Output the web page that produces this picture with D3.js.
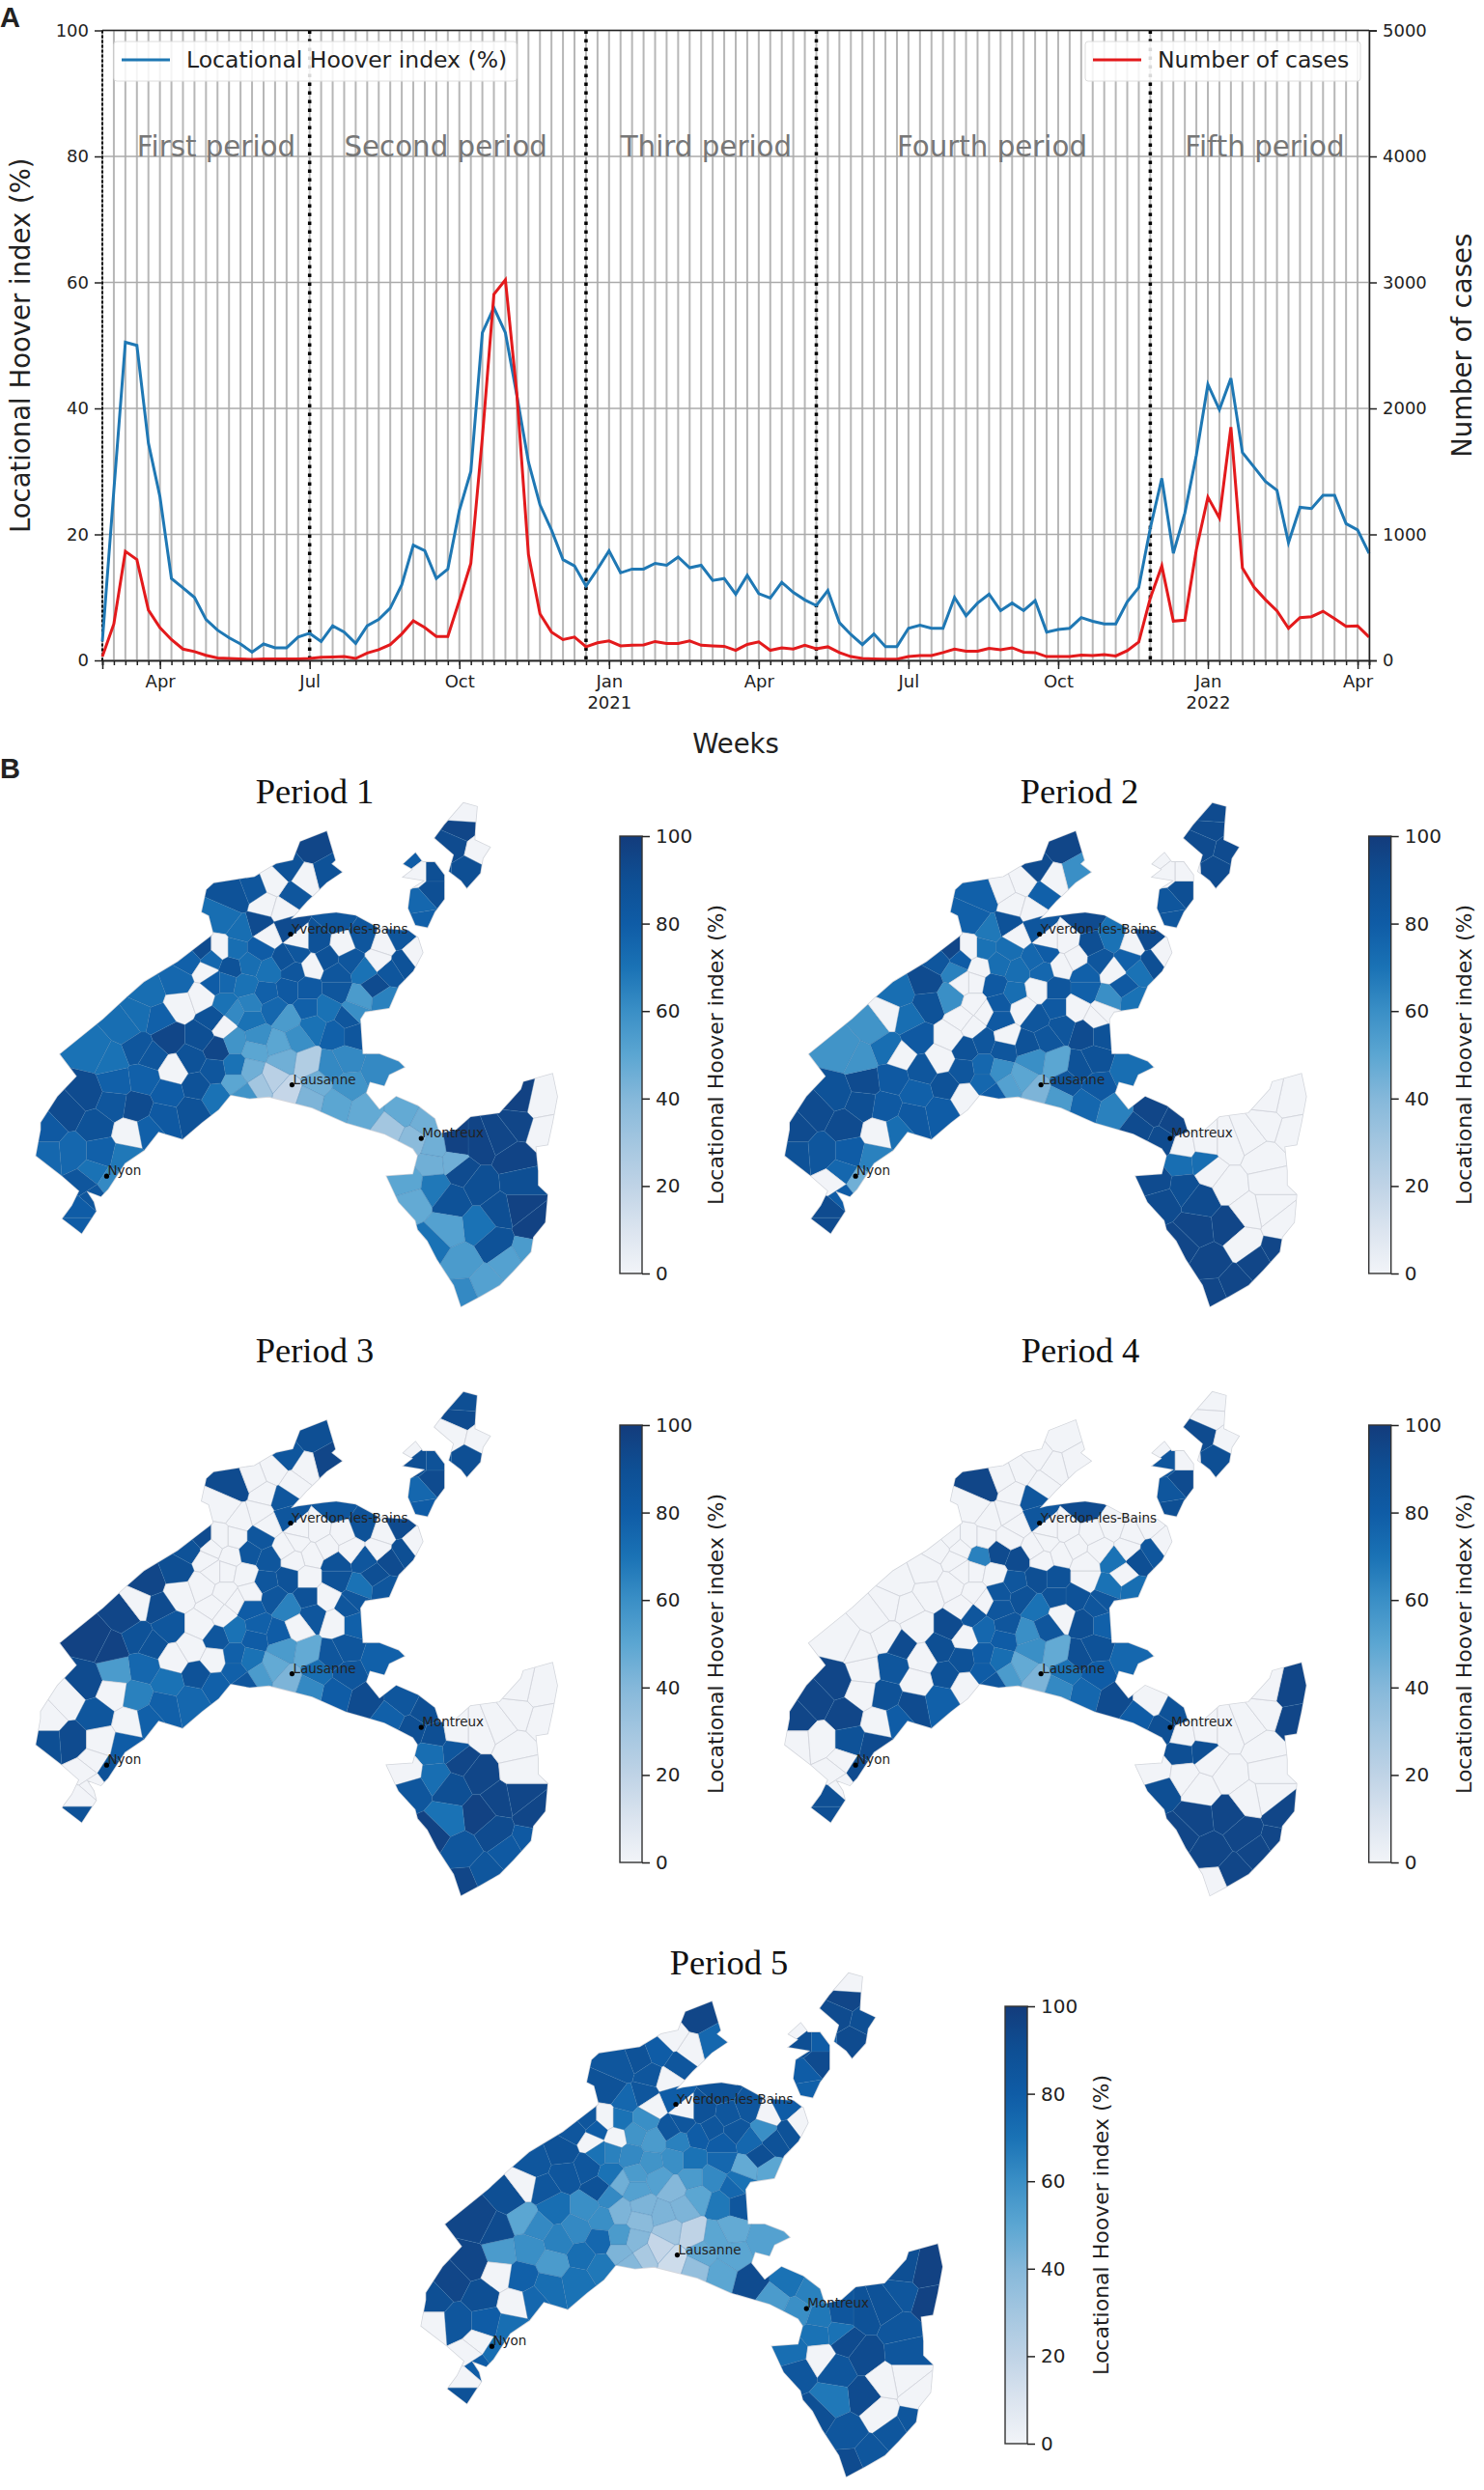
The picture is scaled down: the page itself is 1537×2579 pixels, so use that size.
<!DOCTYPE html>
<html>
<head>
<meta charset="utf-8">
<script src="https://cdn.jsdelivr.net/npm/d3@7"></script>
<style>
  html, body { margin: 0; background: #fff; }
  svg { display: block; }
  text { font-family: "DejaVu Sans", sans-serif; fill: #222; }
</style>
</head>
<body>
<svg id="chart" width="1537" height="2579"></svg>
<script>
// ---- panel A values, one per week ----
const hooverWeekly = [3,27,50.5,50,34.5,26,13,11.5,10,6.5,4.8,3.6,2.6,1.3,2.6,2,2,3.7,4.3,3,
  5.5,4.5,2.7,5.5,6.5,8.3,12,18.3,17.4,13,14.5,23.8,30,52,56,52,42,31.5,24.7,20.7,
  16,15,11.8,14.5,17.4,13.9,14.5,14.5,15.4,15.1,16.4,14.7,15.1,12.7,13,10.5,13.5,10.6,9.9,12.4,
  10.8,9.6,8.7,11.1,6,4.1,2.5,4.2,2.2,2.2,5.1,5.6,5.1,5.1,10,7.1,9.1,10.5,7.9,9.1,
  7.9,9.5,4.5,4.9,5.1,6.8,6.2,5.8,5.8,9.3,11.6,21,28.9,17,23.4,32.6,43.8,39.8,44.8,33,
  30.7,28.4,27,18.7,24.3,24.1,26.2,26.2,21.7,20.7,17];
const casesWeekly = [30,290,865,800,400,260,165,90,70,40,20,15,12,8,12,12,12,12,15,25,
  27,30,15,58,85,125,210,315,260,190,190,475,770,1770,2905,3020,2110,840,370,225,
  165,185,108,140,155,115,120,123,150,135,135,155,120,115,112,80,127,147,80,100,
  90,120,93,108,62,30,15,12,10,10,30,38,38,62,90,73,73,96,85,100,
  65,62,30,30,30,42,38,46,35,77,147,495,750,312,320,880,1296,1130,1852,733,
  582,482,393,255,340,347,390,332,270,274,185];
const firstWeek = new Date(Date.UTC(2020, 1, 24));
const weekDates = d3.utcMonday.range(firstWeek, new Date(Date.UTC(2022, 3, 5)));

const monthWeeks = ["2020-03-30","2020-06-29","2020-09-28","2020-12-28","2021-03-29","2021-06-28","2021-09-27","2021-12-27","2022-03-28"];
const monthLabels = ["Apr","Jul","Oct","Jan","Apr","Jul","Oct","Jan","Apr"];
const yearLabels = ["","","","2021","","","","2022",""];
const periodStarts = ["2020-02-24","2020-06-29","2020-12-14","2021-05-03","2021-11-22"];
const periodLabels = ["First period","Second period","Third period","Fourth period","Fifth period"];
const periodLabelWeeks = ["2020-03-16","2020-07-20","2021-01-04","2021-06-21","2021-12-13"];
const hooverTicks = [0,20,40,60,80,100];
const casesTicks = [0,1000,2000,3000,4000,5000];

// ---- panel B values: outline parts, then cell seeds with one value per period ----
const outlineMain = [[75,1090],[85,1020],[85,1000],[120,930],[160,875],[125,815],[215,720],[265,660],[300,620],[370,565],[420,515],[445,490],[435,440],[420,430],[430,370],[445,352],[530,335],[575,300],[610,290],[625,240],[680,212],[698,290],[690,300],[712,322],[680,350],[640,400],[605,450],[620,445],[675,435],[700,432],[740,440],[790,475],[850,480],[870,500],[880,540],[860,590],[830,630],[810,690],[760,700],[750,720],[755,815],[790,815],[830,835],[842,850],[810,870],[800,900],[770,890],[762,920],[790,965],[825,930],[870,955],[905,990],[915,1030],[950,1020],[980,985],[1040,975],[1085,910],[1090,890],[1150,868],[1160,930],[1150,1000],[1140,1060],[1115,1065],[1120,1130],[1120,1170],[1140,1195],[1135,1270],[1110,1310],[1105,1350],[1070,1400],[1040,1440],[1000,1470],[960,1498],[945,1440],[910,1370],[890,1320],[870,1290],[865,1265],[830,1215],[805,1145],[860,1140],[870,1090],[860,1070],[830,1050],[800,1030],[720,1000],[650,960],[560,930],[520,935],[480,925],[455,965],[420,1000],[380,1045],[330,1025],[300,1075],[260,1110],[225,1180],[210,1200],[180,1185],[195,1215],[200,1240],[170,1300],[130,1260],[150,1225],[165,1185],[130,1145]];
const outlineNorthA = [[905,230],[925,195],[965,135],[993,145],[990,190],[988,235],[1020,255],[1005,285],[1000,325],[972,365],[960,345],[935,320],[945,275]];
const outlineNorthB = [[840,300],[865,270],[880,295],[905,295],[925,330],[925,395],[905,430],[890,472],[865,465],[850,420],[855,370],[885,345],[840,335],[860,315]];

const siteX = [
  962,960,945,995,975,
  855,870,905,905,875,880,
  650,680,635,600,610,570,550,490,530,590,470,540,
  700,600,555,500,625,660,715,755,800,830,860,595,650,700,
  420,395,460,430,480,520,560,610,640,700,760,810,780,750,800,470,510,555,600,680,725,640,570,
  310,260,200,290,375,370,420,445,350,420,465,290,400,315,362,450,445,490,490,410,350,300,240,450,180,235,285,340,400,140,100,200,270,310,100,150,210,195,260,225,180,195,165,165,
  520,535,600,650,700,735,580,640,590,530,520,570,600,540,490,510,660,690,720,790,725,700,645,760,620,490,
  840,885,810,860,905,900,850,860,905,940,1000,1080,1000,1040,1070,1120,1130,1000,930,1030,960,1060,1010,965,900,1110,
  445,440,490,540,620,680,730,790,840,470,520,740,
  1100,1040,960,950,1080,1085,1080,230,330,945];
const siteY = [
  165,205,250,265,315,
  295,320,320,375,410,450,
  255,325,340,310,385,350,410,390,370,425,450,465,
  450,470,495,480,510,510,520,500,520,500,545,560,575,600,
  530,560,530,590,580,570,590,590,640,640,590,590,630,665,670,620,630,650,640,690,720,690,690,
  650,740,810,710,680,620,660,720,770,770,740,800,830,820,860,800,860,780,850,900,920,880,890,930,920,950,960,985,970,970,1020,1010,1030,1020,1085,1080,1080,1140,1095,1165,1165,1195,1240,1275,
  720,770,720,740,760,760,790,840,830,800,860,880,915,900,890,925,895,850,830,860,900,950,935,970,770,700,
  970,1000,1020,1050,1070,1110,1165,1210,1175,1210,1170,1230,1060,1040,1100,950,1020,1280,1290,1325,1380,1380,1440,1465,1330,1280,
  620,560,530,530,540,555,560,560,565,680,680,700,
  1350,1240,1130,1060,1000,940,1160,830,720,1105];
const hooverPeriod1 = [
  0,95,92,0,90,
  80,0,90,90,75,78,
  95,88,0,88,85,0,0,88,85,0,72,92,
  85,92,0,72,0,88,0,85,0,85,0,88,0,85,
  92,78,0,0,88,72,70,85,82,85,70,85,92,55,65,75,70,78,82,70,85,78,75,
  72,72,70,72,0,75,0,88,95,90,0,85,88,85,0,95,85,58,70,88,80,78,78,70,92,85,92,82,88,92,82,88,0,78,75,75,78,70,68,62,85,85,80,80,
  70,60,55,70,78,85,50,25,45,50,45,22,18,30,50,58,45,62,62,62,58,50,42,48,60,62,
  48,45,30,38,45,45,50,48,68,88,90,97,96,95,96,0,0,70,52,88,55,52,52,62,70,97,
  80,75,72,80,85,88,85,0,88,70,65,60,
  55,90,92,97,95,97,90,70,78,45];
const hooverPeriod2 = [
  92,92,92,92,92,
  0,0,0,90,85,85,
  95,60,0,92,78,0,0,78,0,0,78,88,
  92,85,0,68,0,0,90,70,0,92,0,75,0,78,
  95,85,0,65,0,72,72,75,85,78,0,70,82,60,70,0,82,72,0,0,0,82,0,
  72,58,58,0,88,92,60,0,82,0,0,72,0,0,85,88,85,85,75,88,78,82,92,0,88,90,82,82,80,92,92,92,0,72,88,85,80,75,65,45,0,80,92,92,
  82,0,85,85,92,88,88,50,60,85,60,50,42,52,75,80,85,88,88,72,82,75,55,65,85,0,
  95,95,92,92,0,72,92,92,90,92,0,0,0,0,0,0,0,95,95,0,95,95,95,95,95,0,
  0,80,70,72,80,0,85,78,90,0,82,0,
  95,0,0,0,0,0,0,58,72,72];
const hooverPeriod3 = [
  90,92,0,0,90,
  0,90,88,92,75,80,
  90,95,0,85,0,0,0,92,0,85,0,0,
  85,85,0,0,0,0,0,88,0,92,0,0,0,88,
  92,88,0,0,0,85,85,0,0,88,85,92,90,70,85,0,0,85,88,0,85,88,85,
  95,95,97,0,0,90,0,0,85,0,0,88,0,88,0,85,0,70,78,88,70,75,55,78,92,0,65,78,75,0,0,85,0,78,90,92,0,0,80,88,0,0,0,88,
  80,78,65,85,0,78,80,48,55,80,70,48,42,55,78,85,72,85,85,78,85,80,62,92,0,0,
  85,90,78,90,90,72,0,85,72,90,95,95,0,0,0,0,0,97,70,92,85,82,85,95,97,95,
  0,0,0,85,0,0,0,0,90,0,0,85,
  82,95,95,0,0,0,0,97,92,85];
const hooverPeriod4 = [
  0,0,92,0,90,
  0,85,0,92,85,90,
  0,0,0,0,0,0,0,95,0,85,0,0,
  92,85,0,0,0,0,0,0,0,0,0,0,0,0,
  0,0,0,0,65,92,92,0,88,0,70,90,0,70,72,0,0,85,90,88,85,88,88,
  0,0,0,0,0,0,0,0,0,92,85,0,90,92,0,0,88,75,80,88,0,85,0,0,95,0,88,92,78,95,95,95,0,80,0,0,88,0,92,92,0,0,90,90,
  85,85,70,0,90,78,60,48,60,80,72,48,42,55,80,85,70,90,88,75,80,75,62,92,85,0,
  0,88,80,90,0,90,0,90,0,0,0,0,0,0,0,95,95,95,95,95,95,95,95,0,95,95,
  0,0,0,0,0,0,0,0,85,0,85,85,
  95,0,0,0,0,0,0,0,0,90];
const hooverPeriod5 = [
  0,95,92,90,92,
  0,90,80,92,80,78,
  95,75,0,0,85,80,85,85,88,0,88,85,
  88,80,0,75,0,88,85,85,0,80,0,85,80,80,
  85,85,0,0,0,58,55,65,70,75,75,88,90,48,50,65,62,58,60,62,75,55,52,
  85,90,95,0,85,88,85,88,72,60,62,50,62,62,65,60,75,42,55,72,55,60,55,68,95,0,78,72,70,95,90,90,0,75,0,85,80,0,72,72,0,80,0,88,
  52,42,40,50,68,85,42,20,30,38,40,18,15,28,42,40,48,50,48,52,50,50,35,92,42,45,
  70,65,55,60,68,70,72,85,0,85,92,0,88,88,85,97,97,92,68,0,85,85,85,92,90,0,
  70,80,70,60,85,85,85,60,88,70,55,70,
  85,0,92,85,85,90,85,92,85,70];

const cityNames = ["Yverdon-les-Bains","Lausanne","Montreux","Nyon"];
const cityX = [605,608,877,222];
const cityY = [490,898,1043,1145];
const panelTitles = ["Period 1","Period 2","Period 3","Period 4","Period 5"];
const panelValues = [hooverPeriod1,hooverPeriod2,hooverPeriod3,hooverPeriod4,hooverPeriod5];
const panelDX = [0,775.7,0,775.7,399];
const panelDY = [0,0,610,610,1212];
const titleX = [326,1118,326,1119,755];
const titleY = [832,832,1411,1411,2045];
const barTicks = [0,20,40,60,80,100];

const svg = d3.select("#chart");
const blue = "#1f78b4", red = "#e31a1c", gridColor = "#b7b7b7";

// ---------- Panel A ----------
const plotLeft = 106, plotRight = 1418, plotTop = 31.5, plotBottom = 684;
const parse = d3.utcParse("%Y-%m-%d");
const x = d3.scaleUtc().domain(d3.extent(weekDates)).range([plotLeft, plotRight]);
const yHoover = d3.scaleLinear().domain([0,100]).range([plotBottom, plotTop]);
const yCases = d3.scaleLinear().domain([0,5000]).range([plotBottom, plotTop]);

const a = svg.append("g");
a.append("g").selectAll("line").data(weekDates).join("line")
  .attr("x1", d => x(d)).attr("x2", d => x(d)).attr("y1", plotTop).attr("y2", plotBottom)
  .attr("stroke", gridColor).attr("stroke-width", 2);
a.append("g").selectAll("line").data(hooverTicks).join("line")
  .attr("x1", plotLeft).attr("x2", plotRight).attr("y1", d => yHoover(d)).attr("y2", d => yHoover(d))
  .attr("stroke", "#aaa").attr("stroke-width", 1.6);

// period labels sit under the lines
a.append("g").selectAll("text").data(periodLabels).join("text")
  .attr("x", (d, i) => x(parse(periodLabelWeeks[i]))).attr("y", yHoover(80))
  .attr("font-size", 29.3).style("fill", "#777").text(d => d);

periodStarts.forEach((d, i) => {
  a.append("line").attr("x1", x(parse(d))).attr("x2", x(parse(d))).attr("y1", plotTop).attr("y2", plotBottom)
    .attr("stroke", "#000")
    .attr("stroke-width", i === 0 ? 2 : 3.5)
    .attr("stroke-dasharray", i === 0 ? "3 2" : "3.5 5.5");
});

const lineOf = (yScale) => d3.line().x((d, i) => x(weekDates[i])).y(d => yScale(d));
a.append("path").datum(hooverWeekly).attr("d", lineOf(yHoover))
  .attr("fill", "none").attr("stroke", blue).attr("stroke-width", 3);
a.append("path").datum(casesWeekly).attr("d", lineOf(yCases))
  .attr("fill", "none").attr("stroke", red).attr("stroke-width", 3);

const styleAxis = (g, size) => {
  g.selectAll("text").attr("font-size", size);
  g.selectAll("line, path").attr("stroke", "#222").attr("stroke-width", 1.5);
};
a.append("g").attr("transform", `translate(${plotLeft},0)`)
  .call(d3.axisLeft(yHoover).tickValues(hooverTicks).tickSize(8).tickPadding(6))
  .call(g => styleAxis(g, 18)).call(g => g.select(".domain").remove());
a.append("g").attr("transform", `translate(${plotRight},0)`)
  .call(d3.axisRight(yCases).tickValues(casesTicks).tickSize(8).tickPadding(6).tickFormat(d3.format("d")))
  .call(g => styleAxis(g, 18));
a.append("line").attr("x1", plotLeft).attr("x2", plotRight).attr("y1", plotTop).attr("y2", plotTop).attr("stroke", "#222").attr("stroke-width", 1.5);

// weekly minor ticks, then labelled ticks
a.append("g").attr("transform", `translate(0,${plotBottom})`)
  .call(d3.axisBottom(x).tickValues(weekDates).tickSize(5).tickFormat(""))
  .call(g => styleAxis(g, 18));
const major = a.append("g").attr("transform", `translate(0,${plotBottom})`)
  .call(d3.axisBottom(x).tickValues(monthWeeks.map(parse)).tickSize(9).tickPadding(6).tickFormat((d, i) => monthLabels[i]))
  .call(g => styleAxis(g, 18));
major.selectAll(".tick").append("text")
  .attr("y", 37).attr("dy", "0.71em").style("fill", "#222").attr("font-size", 18)
  .text((d, i) => yearLabels[i]);

a.append("text").attr("transform", `translate(21,${(plotTop + plotBottom) / 2}) rotate(-90)`)
  .attr("text-anchor", "middle").attr("dy", "0.35em").attr("font-size", 27.5).text("Locational Hoover index (%)");
a.append("text").attr("transform", `translate(1514,${(plotTop + plotBottom) / 2}) rotate(-90)`)
  .attr("text-anchor", "middle").attr("dy", "0.35em").attr("font-size", 27.5).text("Number of cases");
a.append("text").attr("x", 762).attr("y", 780).attr("text-anchor", "middle").attr("font-size", 27.5).text("Weeks");

// legends
const legend = (bx, bw, lineColor, label) => {
  const g = a.append("g");
  g.append("rect").attr("x", bx).attr("y", 43).attr("width", bw).attr("height", 41).attr("rx", 3)
    .attr("fill", "#fff").attr("fill-opacity", 0.85).attr("stroke", "#ddd");
  g.append("line").attr("x1", bx + 8).attr("x2", bx + 58).attr("y1", 62).attr("y2", 62)
    .attr("stroke", lineColor).attr("stroke-width", 3);
  g.append("text").attr("x", bx + 75).attr("y", 70).attr("font-size", 23.5).text(label);
};
legend(118, 417, blue, "Locational Hoover index (%)");
legend(1124, 285, red, "Number of cases");

svg.append("text").attr("x", 0).attr("y", 28).attr("font-size", 29).attr("font-weight", 700)
  .style("font-family", "'Liberation Sans', sans-serif").text("A");
svg.append("text").attr("x", 0).attr("y", 806).attr("font-size", 29).attr("font-weight", 700)
  .style("font-family", "'Liberation Sans', sans-serif").text("B");

// ---------- Panel B ----------
const mapX = d3.scaleLinear().domain([0,1568]).range([0,780]);
const mapY = d3.scaleLinear().domain([0,1568]).range([780,1380]);
const color = d3.scaleLinear()
  .domain([0,10,20,30,40,50,60,70,80,90,100])
  .range(["#f2f4f8","#dbe4ef","#bfd3e6","#a3c6e0","#85b8da","#5ba6d2","#3a8fc6","#1a72b5","#0f5ca6","#0e4f94","#133c7c"]);

const outlinePath = d3.line().x(d => mapX(d[0])).y(d => mapY(d[1])).curve(d3.curveLinearClosed);
const outlines = [outlineMain, outlineNorthA, outlineNorthB].map(p => outlinePath(p)).join(" ");
const delaunay = d3.Delaunay.from(siteX.map((d, i) => [mapX(d), mapY(siteY[i])]));
const voronoi = delaunay.voronoi([0, 780, 780, 1380]);

const defs = svg.append("defs");
defs.append("clipPath").attr("id", "vaud").append("path").attr("d", outlines);
const grad = defs.append("linearGradient").attr("id", "barFill").attr("x1", 0).attr("y1", 1).attr("x2", 0).attr("y2", 0);
grad.selectAll("stop").data(color.domain()).join("stop")
  .attr("offset", d => d / 100).attr("stop-color", d => color(d));

const barY = d3.scaleLinear().domain([0,100]).range([1319, 866]);

panelValues.forEach((values, p) => {
  svg.append("text").attr("x", titleX[p]).attr("y", titleY[p]).attr("text-anchor", "middle").attr("font-size", 36.5)
    .style("font-family", "'Liberation Serif', serif").style("fill", "#111").text(panelTitles[p]);

  const g = svg.append("g").attr("transform", `translate(${panelDX[p]},${panelDY[p]})`);
  g.append("path").attr("d", outlines).attr("fill", "none").attr("stroke", "#d3d6dc").attr("stroke-width", 1.6);
  const cells = g.append("g").attr("clip-path", "url(#vaud)");
  cells.selectAll("path").data(values).join("path")
    .attr("d", (d, i) => voronoi.renderCell(i))
    .attr("fill", d => color(d))
    .attr("stroke", d => d === 0 ? "#cfd2d9" : "#3f78ad")
    .attr("stroke-opacity", d => d === 0 ? 1 : 0.35)
    .attr("stroke-width", 0.8);

  const labels = g.append("g");
  labels.selectAll("circle").data(cityNames).join("circle")
    .attr("cx", (d, i) => mapX(cityX[i])).attr("cy", (d, i) => mapY(cityY[i])).attr("r", 2.6).attr("fill", "#000");
  labels.selectAll("text").data(cityNames).join("text")
    .attr("x", (d, i) => mapX(cityX[i]) + 1).attr("y", (d, i) => mapY(cityY[i]) - 1)
    .attr("font-size", 13.5).style("fill", "#222").text(d => d);

  // colour bar
  const bar = g.append("g");
  bar.append("rect").attr("x", 642).attr("y", 866).attr("width", 23).attr("height", 453)
    .attr("fill", "url(#barFill)").attr("stroke", "#333").attr("stroke-width", 1.4);
  bar.append("g").attr("transform", "translate(665,0)")
    .call(d3.axisRight(barY).tickValues(barTicks).tickSize(8).tickPadding(6))
    .call(s => s.select(".domain").remove())
    .call(s => styleAxis(s, 20));
  bar.append("text").attr("transform", `translate(741,${barY(50)}) rotate(-90)`)
    .attr("text-anchor", "middle").attr("dy", "0.35em").attr("font-size", 22).text("Locational Hoover index (%)");
});
</script>
</body>
</html>
